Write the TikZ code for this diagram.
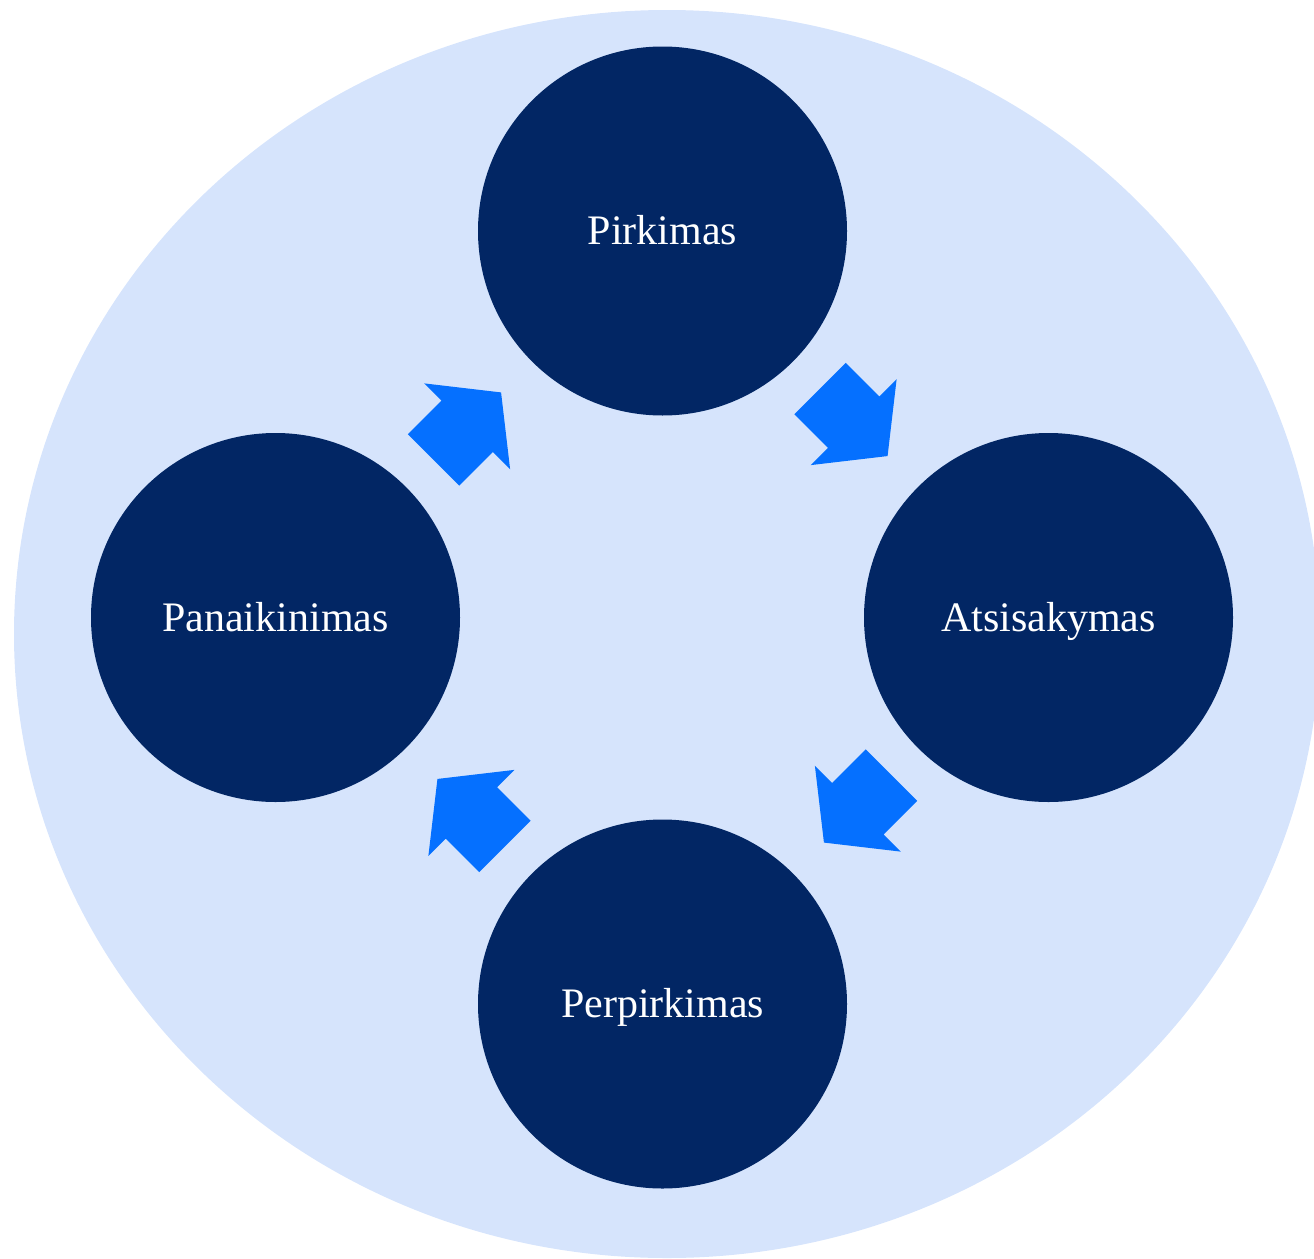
\documentclass[tikz,border=0pt]{standalone}
\usepackage{fontspec}
\setmainfont{Liberation Serif}
\definecolor{bglight}{HTML}{D6E4FC}
\definecolor{navy}{HTML}{022664}
\definecolor{arrowblue}{HTML}{0570FF}
\begin{document}
\begin{tikzpicture}[x=1pt,y=1pt,
  stage/.style={circle,fill=navy,draw=none,minimum size=369pt,inner sep=0pt},
  label/.style={text=white,anchor=base,font=\fontsize{42}{50}\selectfont},
  cyclearrow/.style={fill=arrowblue,draw=none}]
\useasboundingbox (0,0) rectangle (1314,-1258);
\clip (0,0) rectangle (1314,-1258);
% background ellipse
\fill[bglight] (667,-634) ellipse [x radius=653, y radius=624];
% centre of the cycle
\coordinate (ctr) at (662.5,-617.5);
% stages
\node[stage] (pirk) at (662.5,-231) {};
\node[stage] (atsi) at (1048.5,-617.5) {};
\node[stage] (perp) at (662.5,-1004) {};
\node[stage] (pana) at (275.5,-617.5) {};
\node[label] (tpirk) at ([yshift=-13.5]pirk.center) {Pirkimas};
\node[label] (tatsi) at ([yshift=-13.5]atsi.center) {Atsisakymas};
\node[label] (tperp) at ([yshift=-13.5]perp.center) {Perpirkimas};
\node[label] (tpana) at ([yshift=-13.5]pana.center) {Panaikinimas};
% block arrows (clockwise)
\foreach \a in {45,-45,-135,135}{
  \fill[cyclearrow, shift={(ctr)}, rotate=\a-90]
    (-50.5,236.9) -- (-3,236.9) -- (-3,212.5) -- (45,273.3)
    -- (-3,334.1) -- (-3,309.7) -- (-50.5,309.7) -- cycle;
}
\end{tikzpicture}
\end{document}
